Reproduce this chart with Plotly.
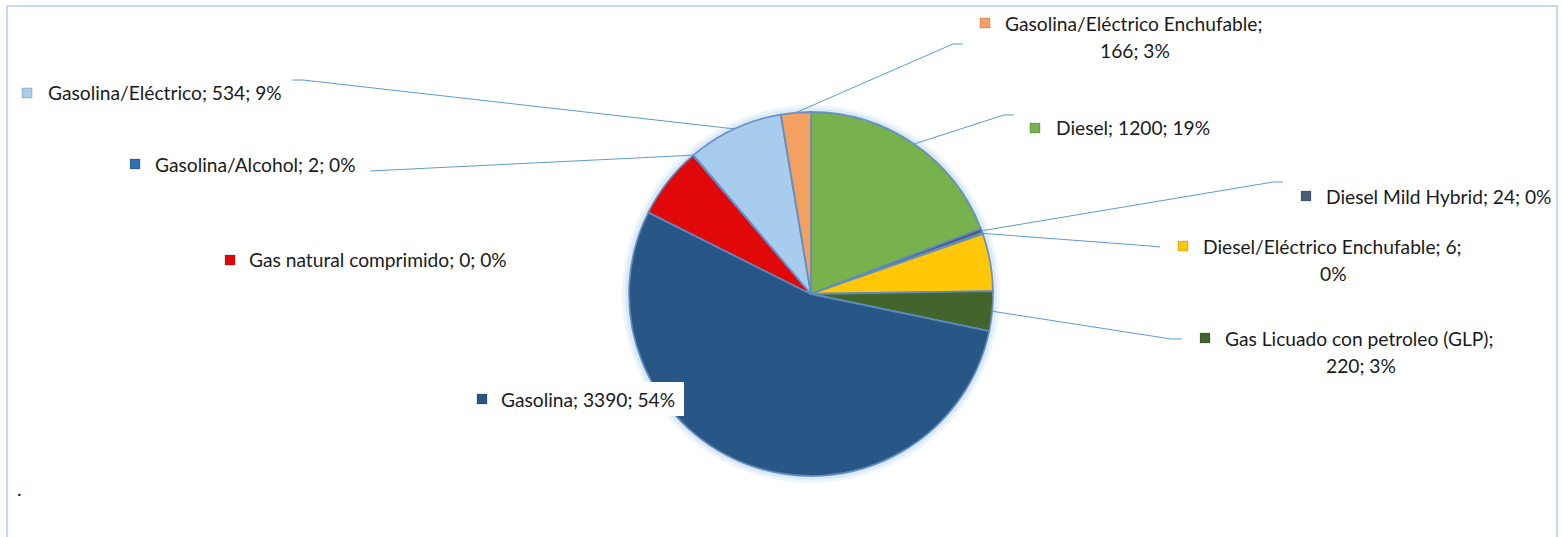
import math
import plotly.graph_objects as go

W, H = 1562, 537

# ---------------- data (clockwise from 12 o'clock) ----------------
categories = [
    "Diesel", "Diesel Mild Hybrid", "Diesel/Eléctrico Enchufable", "Sin etiqueta (amarillo)",
    "Gas Licuado con petroleo (GLP)", "Gasolina", "Sin etiqueta (rojo)", "Gas natural comprimido",
    "Gasolina/Alcohol", "Gasolina/Eléctrico", "Gasolina/Eléctrico Enchufable",
]
values = [1200, 24, 6, 320, 220, 3390, 400, 0, 2, 534, 166]
label_line1 = [
    "Diesel; 1200; 19%", "Diesel Mild Hybrid; 24; 0%", "Diesel/Eléctrico Enchufable; 6;", None,
    "Gas Licuado con petroleo (GLP);", "Gasolina; 3390; 54%", None, "Gas natural comprimido; 0; 0%",
    "Gasolina/Alcohol; 2; 0%", "Gasolina/Eléctrico; 534; 9%", "Gasolina/Eléctrico Enchufable;",
]
label_line2 = ["", "", "0%", None, "220; 3%", "", None, "", "", "", "166; 3%"]

# ---------------- style ----------------
colors = [
    "#77B24C", "#4A5C78", "#FFC708", "#FFC708",
    "#41652A", "#285785", "#E00808", "#E00808",
    "#2E6FAF", "#A8CCEE", "#F4A060",
]
FONT = "Lato"
FS = 19.2
CX, CY, R = 811, 294, 182

# label layout in pixels: marker centre x, text left x, line-1 y, line-2 centre x, line-2 y,
# leader elbow points (None = no leader line)
label_layout = {
    0: dict(mx=1035, tx=1054, y=128, l2x=None, y2=None, elbow=[(1004, 115), (1014, 115)]),
    1: dict(mx=1306, tx=1324, y=196, l2x=None, y2=None, elbow=[(1273, 182), (1283, 182)]),
    2: dict(mx=1183, tx=1201, y=246, l2x=1333, y2=273, elbow=[(1150, 246), (1160, 247)]),
    4: dict(mx=1205, tx=1223, y=338, l2x=1361, y2=365, elbow=[(1171, 339), (1182, 339)]),
    5: dict(mx=482, tx=499, y=399, l2x=None, y2=None, elbow=None),
    7: dict(mx=230, tx=247, y=260, l2x=None, y2=None, elbow=None),
    8: dict(mx=135, tx=153, y=164, l2x=None, y2=None, elbow=[(380, 170.5), (370, 171)]),
    9: dict(mx=27, tx=46, y=93, l2x=None, y2=None, elbow=[(303, 80), (292, 80)]),
    10: dict(mx=985, tx=1003, y=23, l2x=1135, y2=50, elbow=[(953, 44), (963, 44)]),
}


def px(x):
    return x / W


def py(y):
    return 1 - y / H


fig = go.Figure()
fig.add_trace(go.Pie(
    labels=categories, values=values, sort=False, direction="clockwise", rotation=0,
    marker=dict(colors=colors, line=dict(color="rgba(95,140,195,0.9)", width=1.8)),
    textinfo="none", hoverinfo="label+value+percent", showlegend=False,
    domain=dict(x=[px(CX - R), px(CX + R)], y=[py(CY + R), py(CY - R)]),
))

shapes = []
# chart frame
shapes.append(dict(type="rect", xref="paper", yref="paper", x0=px(7), x1=px(1557), y0=py(545), y1=py(6),
                   line=dict(color="#C3DAF0", width=2), fillcolor="rgba(0,0,0,0)", layer="below"))
# soft glow around the pie
for extra, col in [(7, "#EEF5FB"), (4, "#DCEAF7")]:
    shapes.append(dict(type="circle", xref="paper", yref="paper",
                       x0=px(CX - R - extra), x1=px(CX + R + extra),
                       y0=py(CY + R + extra), y1=py(CY - R - extra),
                       line=dict(width=0), fillcolor=col, layer="below"))

total = sum(values)
cum = 0.0
mid_angles = []
for v in values:
    mid_angles.append((cum + v / 2) / total * 360)
    cum += v

annotations = []
for i, lay in label_layout.items():
    # leader line from slice mid-point on the rim to the label elbow
    if lay["elbow"]:
        th = math.radians(mid_angles[i])
        ax, ay = CX + R * math.sin(th), CY - R * math.cos(th)
        pts = [(ax, ay)] + lay["elbow"]
        path = "M " + " L ".join(f"{px(x):.5f},{py(y):.5f}" for x, y in pts)
        shapes.append(dict(type="path", xref="paper", yref="paper", path=path,
                           line=dict(color="#5B9BD5", width=1), layer="above"))
    if i == 5:
        # white label box over the pie
        shapes.append(dict(type="rect", xref="paper", yref="paper", x0=px(474), x1=px(684),
                           y0=py(416), y1=py(382), line=dict(width=0), fillcolor="white", layer="above"))
    # legend key square
    shapes.append(dict(type="rect", xref="paper", yref="paper",
                       x0=px(lay["mx"] - 5), x1=px(lay["mx"] + 5),
                       y0=py(lay["y"] + 5), y1=py(lay["y"] - 5),
                       line=dict(color="rgba(0,0,0,0.35)", width=0.5), fillcolor=colors[i], layer="above"))
    annotations.append(dict(xref="paper", yref="paper", x=px(lay["tx"]), y=py(lay["y"]),
                            xanchor="left", yanchor="middle", text=label_line1[i], showarrow=False,
                            font=dict(family=FONT, size=FS, color="#1a1a1a")))
    if lay["l2x"] is not None:
        annotations.append(dict(xref="paper", yref="paper", x=px(lay["l2x"]), y=py(lay["y2"]),
                                xanchor="center", yanchor="middle", text=label_line2[i], showarrow=False,
                                font=dict(family=FONT, size=FS, color="#1a1a1a")))

annotations.append(dict(xref="paper", yref="paper", x=px(15), y=py(488), xanchor="left", yanchor="middle",
                        text=".", showarrow=False, font=dict(family=FONT, size=FS, color="#1a1a1a")))

fig.update_layout(
    width=W, height=H, margin=dict(l=0, r=0, t=0, b=0),
    paper_bgcolor="white", plot_bgcolor="white",
    shapes=shapes, annotations=annotations,
)

fig.write_html("out.html", config={"displayModeBar": False},
               post_script="document.body.style.margin='0';document.body.style.overflow='hidden';")
